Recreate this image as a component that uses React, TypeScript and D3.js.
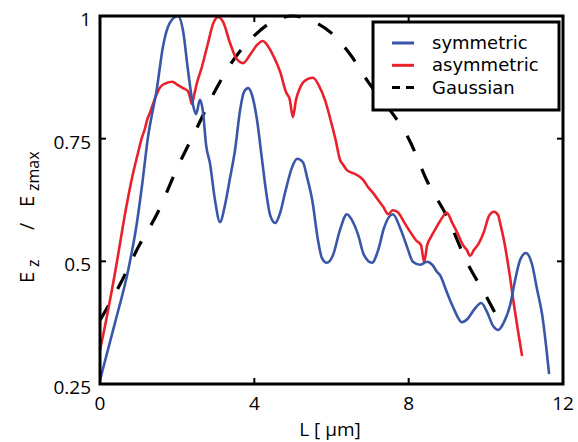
import React, { useEffect, useRef } from 'react';
import * as d3 from 'd3';

// symmetric structure, field along L
const symX = [0, 0.39, 0.73, 0.95, 1.09, 1.24, 1.48, 1.63, 1.81, 2.02, 2.15, 2.28, 2.41, 2.49, 2.59, 2.67, 2.75, 2.85, 2.98, 3.11, 3.24, 3.37, 3.5, 3.63, 3.73, 3.84, 3.94, 4.07, 4.2, 4.3, 4.41, 4.54, 4.67, 4.8, 4.98, 5.11, 5.26, 5.37, 5.5, 5.65, 5.75, 5.88, 6.04, 6.22, 6.4, 6.53, 6.69, 6.84, 7.05, 7.21, 7.36, 7.59, 7.78, 7.96, 8.11, 8.29, 8.48, 8.61, 8.74, 8.81, 8.99, 9.15, 9.38, 9.54, 9.69, 9.88, 10.03, 10.19, 10.32, 10.47, 10.63, 10.76, 10.89, 11.04, 11.2, 11.33, 11.46, 11.56, 11.64];
const symY = [0.258, 0.375, 0.482, 0.575, 0.655, 0.751, 0.855, 0.937, 0.986, 1.0, 0.971, 0.89, 0.819, 0.8, 0.829, 0.804, 0.737, 0.7, 0.625, 0.58, 0.615, 0.67, 0.727, 0.808, 0.845, 0.853, 0.839, 0.788, 0.707, 0.645, 0.594, 0.578, 0.599, 0.641, 0.692, 0.709, 0.702, 0.67, 0.625, 0.543, 0.507, 0.497, 0.513, 0.564, 0.596, 0.584, 0.554, 0.513, 0.497, 0.523, 0.568, 0.596, 0.568, 0.529, 0.499, 0.493, 0.499, 0.493, 0.478, 0.472, 0.437, 0.407, 0.376, 0.384, 0.401, 0.415, 0.397, 0.368, 0.36, 0.376, 0.411, 0.462, 0.503, 0.517, 0.493, 0.442, 0.391, 0.329, 0.27];

// asymmetric structure
const asymX = [0, 0.16, 0.31, 0.41, 0.52, 0.62, 0.73, 0.83, 0.96, 1.09, 1.17, 1.22, 1.3, 1.43, 1.56, 1.71, 1.87, 2.02, 2.15, 2.28, 2.33, 2.38, 2.44, 2.51, 2.64, 2.8, 2.93, 3.06, 3.19, 3.37, 3.53, 3.71, 3.89, 4.07, 4.22, 4.35, 4.51, 4.67, 4.82, 4.92, 5.0, 5.08, 5.18, 5.34, 5.52, 5.68, 5.83, 5.99, 6.12, 6.22, 6.3, 6.4, 6.61, 6.82, 6.95, 7.08, 7.21, 7.34, 7.47, 7.59, 7.72, 7.88, 8.04, 8.19, 8.32, 8.4, 8.48, 8.58, 8.71, 8.86, 8.99, 9.12, 9.25, 9.41, 9.51, 9.59, 9.69, 9.82, 9.95, 10.08, 10.21, 10.32, 10.37, 10.47, 10.6, 10.73, 10.83, 10.94];
const asymY = [0.319, 0.38, 0.442, 0.486, 0.537, 0.584, 0.631, 0.67, 0.713, 0.753, 0.772, 0.788, 0.804, 0.833, 0.855, 0.863, 0.866, 0.859, 0.853, 0.847, 0.835, 0.821, 0.839, 0.863, 0.896, 0.945, 0.984, 0.998, 0.988, 0.945, 0.914, 0.904, 0.921, 0.941, 0.949, 0.939, 0.916, 0.886, 0.845, 0.829, 0.794, 0.829, 0.853, 0.87, 0.874, 0.857, 0.829, 0.784, 0.743, 0.707, 0.697, 0.686, 0.678, 0.666, 0.651, 0.639, 0.625, 0.611, 0.596, 0.604, 0.6, 0.58, 0.56, 0.543, 0.533, 0.499, 0.533, 0.55, 0.568, 0.588, 0.599, 0.58, 0.56, 0.533, 0.523, 0.511, 0.523, 0.537, 0.56, 0.592, 0.601, 0.594, 0.578, 0.543, 0.482, 0.411, 0.36, 0.307];

// gaussian reference
const gaussX = [0, 0.5, 1.0, 1.5, 2.0, 2.5, 3.0, 3.5, 4.0, 4.5, 5.0, 5.5, 6.0, 6.5, 7.0, 7.5, 8.0, 8.5, 9.0, 9.5, 10.0, 10.37];
const gaussY = [0.38, 0.45, 0.53, 0.6, 0.69, 0.77, 0.85, 0.915, 0.96, 0.99, 1.0, 0.99, 0.965, 0.92, 0.86, 0.81, 0.75, 0.66, 0.59, 0.5, 0.43, 0.375];

const xTicks = [0, 4, 8, 12];
const yTicks = [0.25, 0.5, 0.75, 1];
const yTickLabels = ['0.25', '0.5', '0.75', '1'];
const legendNames = ['symmetric', 'asymmetric', 'Gaussian'];
const colors = ['#3a56a8', '#e8212b', '#000000'];

export default function App() {
  const svgRef = useRef<SVGSVGElement>(null);

  useEffect(() => {
    const svg = d3.select(svgRef.current);
    svg.selectAll('*').remove();
    const font = '"Open Sans", sans-serif';

    const left = 100, right = 563, top = 16, bottom = 384;
    const x = d3.scaleLinear().domain([0, 12]).range([left, right]);
    const y = d3.scaleLinear().domain([0.25, 1]).range([bottom, top]);

    const line = d3
      .line<[number, number]>()
      .x((d) => x(d[0]))
      .y((d) => y(d[1]))
      .curve(d3.curveMonotoneX);

    const series = [
      { xs: symX, ys: symY, color: colors[0], w: 2.6, dash: null },
      { xs: asymX, ys: asymY, color: colors[1], w: 2.6, dash: null },
      { xs: gaussX, ys: gaussY, color: colors[2], w: 3.2, dash: '17 19' },
    ];
    [series[2], series[1], series[0]].forEach((s) => {
      svg
        .append('path')
        .attr('d', line(s.xs.map((v, i) => [v, s.ys[i]] as [number, number])))
        .attr('fill', 'none')
        .attr('stroke', s.color)
        .attr('stroke-width', s.w)
        .attr('stroke-dasharray', s.dash)
        .attr('stroke-linejoin', 'round');
    });

    // frame and inward ticks
    svg
      .append('rect')
      .attr('x', left)
      .attr('y', top)
      .attr('width', right - left)
      .attr('height', bottom - top)
      .attr('fill', 'none')
      .attr('stroke', '#000')
      .attr('stroke-width', 3);

    const tl = 6;
    xTicks.forEach((t) => {
      svg.append('line').attr('x1', x(t)).attr('x2', x(t)).attr('y1', bottom).attr('y2', bottom - tl).attr('stroke', '#000').attr('stroke-width', 2);
      svg.append('line').attr('x1', x(t)).attr('x2', x(t)).attr('y1', top).attr('y2', top + tl).attr('stroke', '#000').attr('stroke-width', 2);
      svg
        .append('text')
        .attr('x', x(t))
        .attr('y', bottom + 26)
        .attr('text-anchor', 'middle')
        .attr('font-family', font)
        .attr('font-size', 19)
        .text(t);
    });
    yTicks.forEach((t, i) => {
      svg.append('line').attr('x1', left).attr('x2', left + tl).attr('y1', y(t)).attr('y2', y(t)).attr('stroke', '#000').attr('stroke-width', 2);
      svg.append('line').attr('x1', right).attr('x2', right - tl).attr('y1', y(t)).attr('y2', y(t)).attr('stroke', '#000').attr('stroke-width', 2);
      svg
        .append('text')
        .attr('x', left - 9)
        .attr('y', y(t) + 10)
        .attr('text-anchor', 'end')
        .attr('font-family', font)
        .attr('font-size', 19)
        .text(yTickLabels[i]);
    });

    // axis titles
    svg
      .append('text')
      .attr('x', 330)
      .attr('y', 436)
      .attr('text-anchor', 'middle')
      .attr('font-family', font)
      .attr('font-size', 19)
      .text('L [ μm]');

    // y title, pieces spread out like the original
    const yl = svg.append('g').attr('transform', 'translate(34, 0) rotate(-90)');
    const pieces = [
      { t: 'E', at: 283, size: 20, sub: false },
      { t: 'z', at: 267, size: 16, sub: true },
      { t: '/', at: 230, size: 20, sub: false },
      { t: 'E', at: 207, size: 20, sub: false },
      { t: 'zmax', at: 191, size: 16, sub: true },
    ];
    pieces.forEach((p) => {
      yl.append('text')
        .attr('x', -p.at)
        .attr('y', p.sub ? 5 : 0)
        .attr('font-family', font)
        .attr('font-size', p.size)
        .text(p.t);
    });

    // legend
    const lg = svg.append('g');
    lg.append('rect')
      .attr('x', 373)
      .attr('y', 22)
      .attr('width', 186)
      .attr('height', 88)
      .attr('fill', '#fff')
      .attr('stroke', '#000')
      .attr('stroke-width', 3);
    legendNames.forEach((name, i) => {
      const ly = 43 + i * 22.3;
      lg.append('line')
        .attr('x1', 392)
        .attr('x2', 414)
        .attr('y1', ly)
        .attr('y2', ly)
        .attr('stroke', colors[i])
        .attr('stroke-width', 3)
        .attr('stroke-dasharray', i === 2 ? '8 6' : null);
      lg.append('text')
        .attr('x', 432)
        .attr('y', ly + 6)
        .attr('font-family', '"DejaVu Sans", sans-serif')
        .attr('font-size', 18)
        .text(name);
    });
  }, []);

  return (
    <svg
      ref={svgRef}
      width={578}
      height={442}
      style={{ position: 'absolute', left: 0, top: 0, background: '#fff' }}
    />
  );
}
